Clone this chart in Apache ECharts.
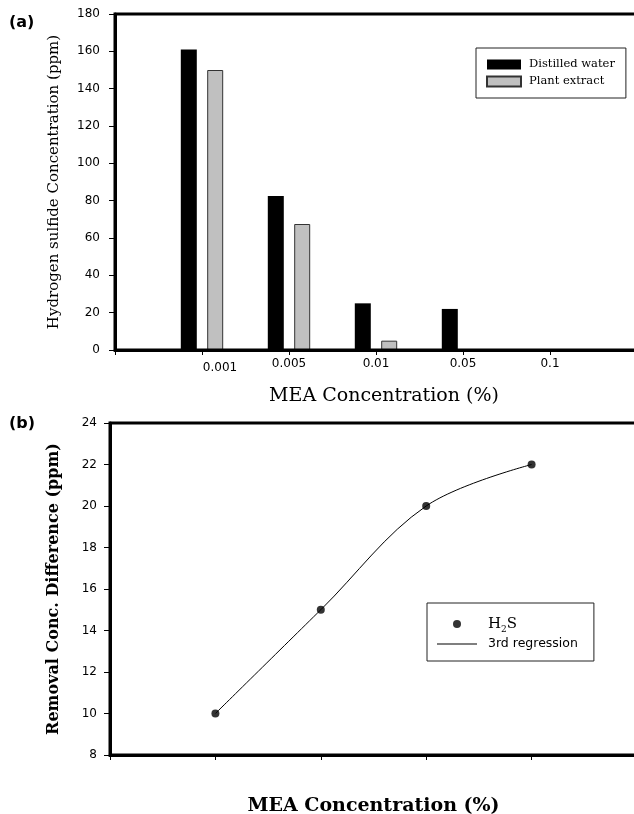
<!DOCTYPE html>
<html><head><meta charset="utf-8">
<script src="https://cdn.jsdelivr.net/npm/echarts@6/dist/echarts.min.js"></script>
<style>html,body{margin:0;padding:0;background:#fff}#c{width:634px;height:814px}</style>
</head><body><div id="c"></div>
<script>
// ---- data (a) ----
const concentrations = ['0.001', '0.005', '0.01', '0.05', '0.1'];
const distilledWater = [161, 82.5, 25, 22, 0];
const plantExtract = [150, 67.5, 5, 0, 0];
// ---- data (b) ----
const diffConcentrations = ['0.001', '0.005', '0.01', '0.05'];
const removalDiff = [10, 15, 20, 22];

const catsA = [''].concat(concentrations, ['']);
const catsB = [''].concat(diffConcentrations, ['']);
const pad = arr => [null].concat(arr, [null]);

const chart = echarts.init(document.getElementById('c'), null, {renderer: 'canvas'});
const sans = 'DejaVu Sans', serif = 'DejaVu Serif';

chart.setOption({
  animation: false,
  backgroundColor: '#fff',
  graphic: [
    {type: 'text', left: 9, top: 15, style: {text: '(a)', font: 'bold 16px "DejaVu Sans"', fill: '#000'}},
    {type: 'text', left: 9, top: 416, style: {text: '(b)', font: 'bold 16px "DejaVu Sans"', fill: '#000'}}
  ],
  grid: [
    {left: 115, top: 14, width: 522, height: 336, show: true, borderColor: '#000', borderWidth: 3,
     containLabel: false, outerBoundsMode: 'none'},
    {left: 110, top: 423, width: 527, height: 332, show: true, borderColor: '#000', borderWidth: 3,
     containLabel: false, outerBoundsMode: 'none'}
  ],
  legend: [
    {
      data: ['Distilled water', 'Plant extract'],
      orient: 'vertical', left: 476, top: 48,
      padding: [8, 11, 8, 10], itemWidth: 34, itemHeight: 10, itemGap: 0,
      icon: 'rect', selectedMode: false,
      borderColor: '#222', borderWidth: 1,
      textStyle: {fontFamily: serif, fontSize: 11.5, color: '#000', lineHeight: 17, padding: [0, 0, 0, 3]}
    },
    {
      data: [
        {name: 'H₂S', icon: 'circle'},
        {name: '3rd regression', icon: 'path://M0,0L40,0L40,1L0,1Z'}
      ],
      orient: 'vertical', left: 427, top: 603,
      padding: [11, 16, 7, 10], itemWidth: 40, itemHeight: 8, itemGap: 0,
      symbolKeepAspect: true,
      selectedMode: false,
      borderColor: '#222', borderWidth: 1,
      formatter: function (n) { return n === 'H₂S' ? '{h|H}{s|2}{h|S}' : '{r|' + n + '}'; },
      textStyle: {
        color: '#000', lineHeight: 20, padding: [0, 0, 0, 6],
        rich: {
          h: {fontFamily: serif, fontSize: 15, color: '#000', verticalAlign: 'middle', lineHeight: 20},
          s: {fontFamily: serif, fontSize: 9, color: '#000', verticalAlign: 'bottom', lineHeight: 20},
          r: {fontFamily: sans, fontSize: 12.5, color: '#000', lineHeight: 20}
        }
      }
    }
  ],
  xAxis: [
    {
      gridIndex: 0, type: 'category', data: catsA, boundaryGap: false,
      axisLine: {lineStyle: {color: '#000', width: 3}},
      axisTick: {show: true, length: 5, interval: 0, lineStyle: {color: '#000', width: 1}},
      axisLabel: {
        fontFamily: sans, fontSize: 12, color: '#000', margin: 8, interval: 0,
        formatter: function (v) { return v === concentrations[0] ? '{o|' + v + '}' : v; },
        rich: {o: {fontFamily: sans, fontSize: 12, color: '#000', padding: [4, 0, 0, 36]}}
      },
      splitLine: {show: false},
      name: 'MEA Concentration (%)', nameLocation: 'middle', nameGap: 37,
      nameTextStyle: {fontFamily: serif, fontSize: 19, color: '#000', padding: [0, 0, 0, 16]}
    },
    {
      gridIndex: 1, type: 'category', data: catsB, boundaryGap: false,
      axisLine: {lineStyle: {color: '#000', width: 3}},
      axisTick: {show: true, length: 5, interval: 0, lineStyle: {color: '#000', width: 1}},
      axisLabel: {show: false},
      splitLine: {show: false},
      name: 'MEA Concentration (%)', nameLocation: 'middle', nameGap: 42,
      nameTextStyle: {fontFamily: serif, fontSize: 19, fontWeight: 'bold', color: '#000'}
    }
  ],
  yAxis: [
    {
      gridIndex: 0, type: 'value', min: 0, max: 180, interval: 20,
      axisLine: {show: true, lineStyle: {color: '#000', width: 3}},
      axisTick: {show: true, length: 6, lineStyle: {color: '#000', width: 1}},
      axisLabel: {fontFamily: sans, fontSize: 12, color: '#000', margin: 15},
      splitLine: {show: false},
      name: 'Hydrogen sulfide Concentration (ppm)', nameLocation: 'middle', nameGap: 53, nameRotate: 90,
      nameTextStyle: {fontFamily: serif, fontSize: 15, color: '#000'}
    },
    {
      gridIndex: 1, type: 'value', min: 8, max: 24, interval: 2,
      axisLine: {show: true, lineStyle: {color: '#000', width: 3}},
      axisTick: {show: true, length: 6, lineStyle: {color: '#000', width: 1}},
      axisLabel: {fontFamily: sans, fontSize: 12, color: '#000', margin: 13},
      splitLine: {show: false},
      name: 'Removal Conc. Difference (ppm)', nameLocation: 'middle', nameGap: 48, nameRotate: 90,
      nameTextStyle: {fontFamily: serif, fontSize: 16, fontWeight: 'bold', color: '#000'}
    }
  ],
  series: [
    {
      name: 'Distilled water', type: 'bar', xAxisIndex: 0, yAxisIndex: 0, z: -1,
      data: pad(distilledWater), barWidth: 16, barGap: '65%',
      itemStyle: {color: '#000'}
    },
    {
      name: 'Plant extract', type: 'bar', xAxisIndex: 0, yAxisIndex: 0, z: -1,
      data: pad(plantExtract), barWidth: 16,
      itemStyle: {color: '#c0c0c0', borderColor: '#333', borderWidth: 1}
    },
    {
      name: '3rd regression', type: 'line', xAxisIndex: 1, yAxisIndex: 1,
      data: pad(removalDiff), smooth: 0.35, symbol: 'none',
      lineStyle: {color: '#000', width: 1}, itemStyle: {color: '#000'}
    },
    {
      name: 'H₂S', type: 'scatter', xAxisIndex: 1, yAxisIndex: 1,
      data: pad(removalDiff), symbol: 'circle', symbolSize: 8,
      itemStyle: {color: '#000'}, z: 5
    }
  ]
});
</script>
</body></html>
